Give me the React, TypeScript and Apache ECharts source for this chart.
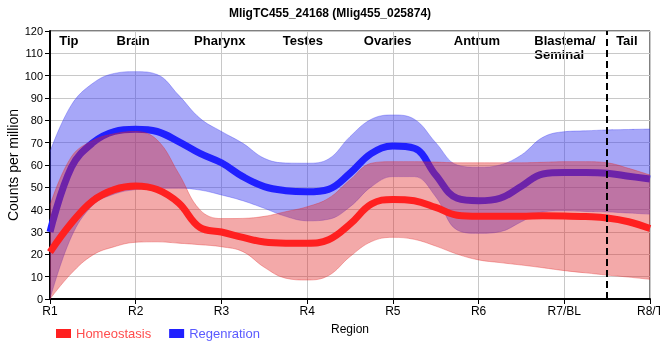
import React, { useEffect, useRef } from 'react';
import * as echarts from 'echarts';

// Tick labels along the x axis (R1 = position 0)
const regionTicks = ['R1', 'R2', 'R3', 'R4', 'R5', 'R6', 'R7/BL', 'R8/T'];
// Body regions written at the top of the plot
const regionNames = ['Tip', 'Brain', 'Pharynx', 'Testes', 'Ovaries', 'Antrum', 'Blastema/\nSeminal', 'Tail'];

// Sample positions along the body axis (in region units, R1 = 0), every quarter region
const pos = ['0', '0.25', '0.5', '0.75', '1', '1.25', '1.5', '1.75', '2', '2.25', '2.5', '2.75', '3', '3.25', '3.5', '3.75',
  '4', '4.25', '4.5', '4.75', '5', '5.25', '5.5', '5.75', '6', '6.25', '6.5', '6.75', '7'];

// Homeostasis: mean and band
const homeoMean = [21, 34, 44, 49, 50.6, 49, 43, 32, 30, 27.6, 25.5, 25, 25, 26.5, 33.5, 42.5, 44.6, 44, 41, 37.5, 37, 37, 37, 37.3, 37.2, 36.9, 36.3, 34.6, 31.6];
const homeoUpper = [42, 63.7, 71, 74, 75, 71.2, 56.3, 39.9, 36, 36.1, 37, 39.1, 41.3, 45.1, 53.3, 60.8, 61.5, 61.5, 61.3, 61, 61, 61, 61, 61.2, 61.5, 61.5, 61, 58.5, 55.5];
const homeoLower = [0, 11.5, 19.7, 23.4, 25.4, 25.6, 25, 24.3, 23.4, 21.2, 14.2, 9.3, 8.5, 10.5, 19, 25.7, 27.6, 26.7, 23.7, 20.1, 17.5, 16.3, 15.2, 14, 12.7, 11.7, 10.7, 9.8, 8.8];

// Regeneration: mean and band
const regenMean = [30, 59, 70, 75, 76, 75, 70.5, 65.2, 61, 54.8, 50.3, 48.5, 48, 49.1, 56.3, 65.2, 68.5, 67.5, 55.5, 45.1, 44, 45.1, 50.5, 56, 56.6, 56.6, 56.3, 55, 53.7];
const regenUpper = [66, 86.9, 96.6, 101, 101.8, 100.5, 91.3, 80.9, 75, 69.7, 63, 60.9, 60.8, 62.7, 72.7, 80.5, 82.4, 80.5, 70, 60, 59, 60, 64.5, 72.4, 74.9, 75.3, 75.7, 75.9, 76.1];
const regenLower = [0, 27.9, 42, 47, 49, 49.5, 49.6, 48.8, 46.6, 44, 40.6, 37, 35, 35.7, 41.3, 50.3, 54.8, 54.8, 45.8, 30.9, 29.4, 30.1, 34.6, 39, 39.5, 39.2, 39, 38.5, 38];

const yTicks = { min: 0, max: 120, interval: 10 };
const dividerAt = '6.5';

export default function App() {
  const ref = useRef<HTMLDivElement>(null);

  useEffect(() => {
    if (!ref.current) return;
    const chart = echarts.init(ref.current, null, { renderer: 'svg' });
    const FONT = '"Liberation Sans", Arial, sans-serif';
    const S = 0.4;

    const diff = (u: number[], l: number[]) => u.map((v, i) => +(v - l[i]).toFixed(3));

    const bandBase = (name: string, stack: string, lower: number[], edge: string, z: number) => ({
      type: 'line', name, stack, data: lower, smooth: S, z,
      symbol: 'none', silent: true, lineStyle: { width: 1, color: edge },
    });
    const bandTop = (name: string, stack: string, upper: number[], lower: number[], edge: string, fill: string, z: number) => ({
      type: 'line', name, stack, data: diff(upper, lower), smooth: S, z,
      symbol: 'none', silent: true, lineStyle: { width: 1, color: edge },
      areaStyle: { color: fill, opacity: 1 },
    });

    const px = (p: number) => 50 + (p * 600) / 7;
    const labelSpots = [
      { p: 0.22, align: 'center' },
      { p: 0.97, align: 'center' },
      { p: 1.98, align: 'center' },
      { p: 2.95, align: 'center' },
      { p: 3.94, align: 'center' },
      { p: 4.98, align: 'center' },
      { p: 5.65, align: 'left' },
      { p: 6.73, align: 'center' },
    ];
    const isTick = (v: string) => Number.isInteger(Number(v));

    chart.setOption({
      animation: false,
      textStyle: { fontFamily: FONT },
      title: {
        text: 'MligTC455_24168 (Mlig455_025874)',
        left: 'center', top: 2,
        textStyle: { fontSize: 12, fontWeight: 'bold', color: '#000', fontFamily: FONT },
      },
      grid: {
        left: 50, right: 10, top: 31, bottom: 61, show: true, borderColor: '#000', borderWidth: 1,
        containLabel: false, outerBoundsMode: 'none',
      },
      legend: {
        left: 51, top: 322, itemWidth: 15, itemHeight: 9, itemGap: 18, icon: 'rect',
        textStyle: { fontSize: 13, fontFamily: FONT },
        data: [
          { name: 'Homeostasis', textStyle: { color: '#ff4d4d' } },
          { name: 'Regenration', textStyle: { color: '#5a5aff' } },
        ],
      },
      xAxis: {
        type: 'category', data: pos, boundaryGap: false,
        axisLine: { show: true, lineStyle: { color: '#000', width: 2 } },
        axisTick: { show: true, length: 5, interval: (i: number, v: string) => isTick(v), lineStyle: { color: '#000' } },
        axisLabel: {
          interval: (i: number, v: string) => isTick(v),
          formatter: (v: string) => (isTick(v) ? regionTicks[Number(v)] : ''),
          color: '#000', fontSize: 12, margin: 6,
        },
        splitLine: { show: true, interval: (i: number, v: string) => isTick(v), lineStyle: { color: '#c8c8c8' } },
        name: 'Region', nameLocation: 'middle', nameGap: 24, nameMoveOverlap: false,
        nameTextStyle: { color: '#000', fontSize: 12 },
      },
      yAxis: {
        type: 'value', ...yTicks,
        axisLine: { show: true, lineStyle: { color: '#000', width: 2 } },
        axisTick: { show: true, length: 5, lineStyle: { color: '#000' } },
        axisLabel: { color: '#000', fontSize: 11, margin: 7 },
        splitLine: { show: true, lineStyle: { color: '#c8c8c8' } },
        name: 'Counts per million', nameLocation: 'middle', nameGap: 30, nameMoveOverlap: false,
        nameTextStyle: { color: '#000', fontSize: 14 },
      },
      graphic: regionNames.map((t, i) => ({
        type: 'text',
        x: px(labelSpots[i].p), y: 33,
        silent: true,
        style: {
          text: t, fill: '#000', font: `bold 13px ${FONT}`,
          align: labelSpots[i].align, verticalAlign: 'top', lineHeight: 14,
        },
      })),
      series: [
        bandBase('regenLow', 'rb', regenLower, 'rgba(60,60,240,0.35)', 1),
        bandTop('regenBand', 'rb', regenUpper, regenLower, 'rgba(60,60,240,0.35)', 'rgba(60,60,240,0.45)', 1),
        {
          type: 'line', name: 'Regenration', data: regenMean, smooth: S, z: 2,
          symbol: 'none', color: '#2020ff', lineStyle: { width: 7, color: '#2020ff' },
        },
        bandBase('homeoLow', 'hb', homeoLower, 'rgba(225,40,40,0.35)', 3),
        bandTop('homeoBand', 'hb', homeoUpper, homeoLower, 'rgba(225,40,40,0.35)', 'rgba(225,40,40,0.4)', 3),
        {
          type: 'line', name: 'Homeostasis', data: homeoMean, smooth: S, z: 4,
          symbol: 'none', color: '#ff2020', lineStyle: { width: 7, color: '#ff2020' },
          markLine: {
            silent: true, symbol: ['none', 'none'], label: { show: false }, z: 5,
            lineStyle: { color: '#000', type: [7, 4], width: 2 },
            data: [{ xAxis: dividerAt }],
          },
        },
      ],
    });

    return () => chart.dispose();
  }, []);

  return <div ref={ref} style={{ position: 'fixed', left: 0, top: 0, width: 660, height: 360 }} />;
}
